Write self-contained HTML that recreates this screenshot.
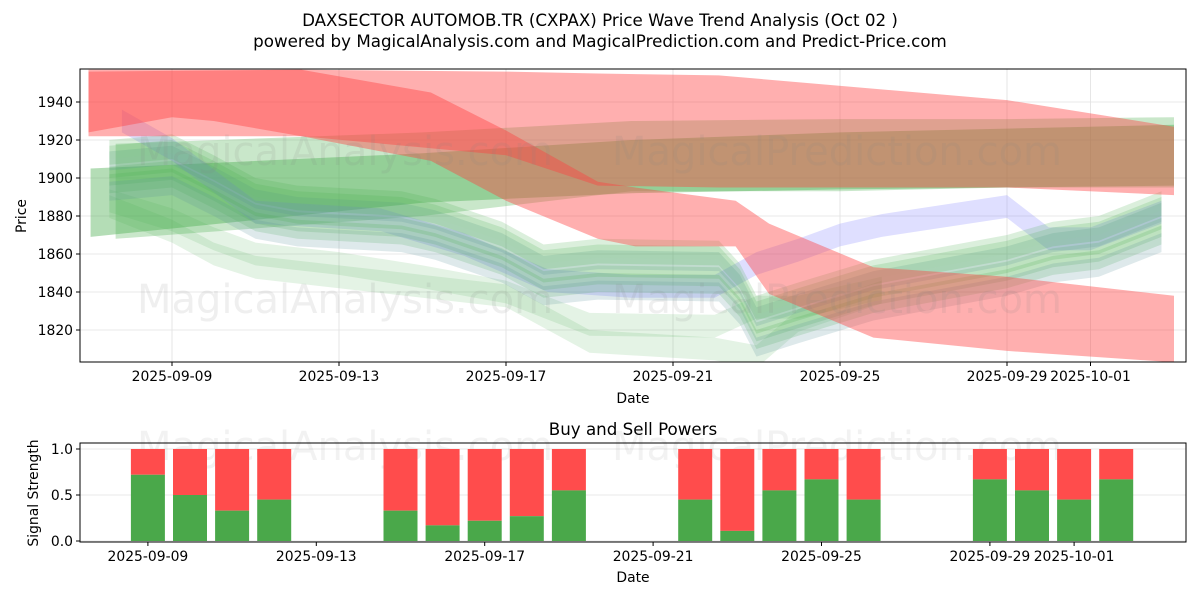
<!DOCTYPE html>
<html><head><meta charset="utf-8"><style>
body{margin:0;background:#fff;}
svg text{font-family:"DejaVu Sans","Liberation Sans",sans-serif;}
</style></head><body>
<svg id="chart" width="1200" height="600" viewBox="0 0 1200 600" xmlns="http://www.w3.org/2000/svg">
<rect width="1200" height="600" fill="#fff"/>
<text x="600" y="26" text-anchor="middle" font-size="16.7">DAXSECTOR AUTOMOB.TR (CXPAX) Price Wave Trend Analysis (Oct 02 )</text>
<text x="600" y="47" text-anchor="middle" font-size="16.7">powered by MagicalAnalysis.com and MagicalPrediction.com and Predict-Price.com</text>
<g id="topPanel"></g>
<g id="botPanel"></g>
</svg>
<script>
const redDeclDays=[-2,0,1,3.1,6.2,8,10.2,11.1,13.5,14.3,16.8,20,24];
const redDeclHi=[1957,1957,1957,1957,1945,1925,1898,1895,1888,1876,1853,1848,1838];
const redDeclLo=[1924,1932,1930,1922,1909,1888,1868,1864,1864,1839,1816,1809,1803];
const redFlatDays=[-2,3.1,8,10.2,13.1,20,24];
const redFlatHi=[1956,1957,1956,1955,1954,1941,1927];
const redFlatLo=[1922,1922,1912,1896,1895,1895,1891];
const g1Days=[-1.95,6,11,16,20,24];
const g1Hi=[1905,1913,1920,1924,1926,1928];
const g1Lo=[1869,1887,1892,1894,1895,1896];
const g2Days=[-1.35,6,11,16,20,24];
const g2Hi=[1918,1924,1930,1931,1931,1932];
const g2Lo=[1868,1880,1893,1893,1895,1895];
const waveDays=[-1.5,0,1,2,3,5.5,6.3,7.9,8.9,10.2,13.1,13.6,14,15,16.8,20,21.1,22.2,23.7];
const waveVals=[1905,1908,1897,1885,1881,1878,1874,1862,1850,1853,1852,1840,1823,1830,1842,1855,1862,1865,1878];
const blueDays=[-1.2,0,2,5,7,9,11,13,14,15,16,17,20,21,22,23.7];
const blueVals=[1930,1915,1882,1878,1865,1846,1843,1843,1855,1862,1870,1875,1885,1868,1868,1882];
const lowDays=[-1.5,0,1,2,4,6,8,10,13,14,15,17];
const lowA=[1888,1878,1868,1860,1855,1848,1840,1823,1822,1832,1832,1842];
const lowB=[1885,1872,1860,1853,1848,1843,1838,1814,1810,1806,1825,1840];
const waveOffsets=[0,-4,4,-8,7,-12,10];
const yTicks=[1820,1840,1860,1880,1900,1920,1940];
const xTickDays=[0,4,8,12,16,20,22];
const xTickLabels=["2025-09-09","2025-09-13","2025-09-17","2025-09-21","2025-09-25","2025-09-29","2025-10-01"];
const barDays=[0,1,2,3,6,7,8,9,10,13,14,15,16,17,20,21,22,23];
const buyVals=[0.72,0.5,0.33,0.45,0.33,0.17,0.22,0.27,0.55,0.45,0.11,0.55,0.67,0.45,0.67,0.55,0.45,0.67];
const sigTicks=[0,0.5,1.0];

const NS="http://www.w3.org/2000/svg";
const FS=13.9;
function mk(tag,attrs,parent){const e=document.createElementNS(NS,tag);for(const k in attrs)e.setAttribute(k,attrs[k]);parent.appendChild(e);return e;}
const L=80,R=1186,T=69,B=362;
const xT=d=>172+41.75*d;
const yT=p=>102+(1940-p)*1.9;
const xB=d=>147.9+42.1*d;
const yB=v=>541-v*92;
const topG=document.getElementById('topPanel'),botG=document.getElementById('botPanel');

yTicks.forEach(v=>{const l=mk('line',{x1:L,x2:R,y1:yT(v),y2:yT(v),stroke:'#e0e0e0','stroke-width':0.8},topG);

});
xTickDays.forEach(d=>{const l=mk('line',{x1:xT(d),x2:xT(d),y1:T,y2:B,stroke:'#e0e0e0','stroke-width':0.8},topG);

});

const cp=mk('clipPath',{id:'cp'},topG);mk('rect',{x:L,y:T,width:R-L,height:B-T},cp);
const g=mk('g',{'clip-path':'url(#cp)'},topG);
function bandPolyG(days,hi,lo,fill,op,name){
  let pts=days.map((d,i)=>xT(d)+','+yT(hi[i]));
  for(let i=days.length-1;i>=0;i--)pts.push(xT(days[i])+','+yT(lo[i]));
  const p=mk('polygon',{points:pts.join(' '),fill:fill,'fill-opacity':op},g);
  
  
}
function waveG(days,vals,off,hw,fill,op,name){bandPolyG(days,vals.map(v=>v+off+hw),vals.map(v=>v+off-hw),fill,op,name);}

bandPolyG(g1Days,g1Hi,g1Lo,'#4caf50',0.42,'green-trend-band-lower');
bandPolyG(g2Days,g2Hi,g2Lo,'#4caf50',0.3,'green-trend-band-upper');
waveG(lowDays,lowA,0,6,'#4caf50',0.15,'green-wave-faint');
waveG(lowDays,lowB,0,6,'#4caf50',0.15,'green-wave-faint');
waveG(blueDays,blueVals,0,6,'#8080ff',0.25,'blue-wave-band');
waveOffsets.forEach((o,i)=>waveG(waveDays,waveVals,o,5,i%3==2?'#5a8f9a':'#4caf50',0.2,'green-wave-band'));
bandPolyG(redFlatDays,redFlatHi,redFlatLo,'#ff4040',0.42,'red-trend-band-flat');
bandPolyG(redDeclDays,redDeclHi,redDeclLo,'#ff4040',0.42,'red-trend-band-declining');

[[345,165],[837,165],[345,313],[837,313]].forEach((p,i)=>{const t=mk('text',{x:p[0],y:p[1],'text-anchor':'middle','font-size':40,fill:'#808080','fill-opacity':0.13},topG);
t.textContent=i%2?'MagicalPrediction.com':'MagicalAnalysis.com';

});

mk('rect',{x:L,y:T,width:R-L,height:B-T,fill:'none',stroke:'#000','stroke-width':1},topG);
yTicks.forEach(v=>{mk('line',{x1:L-4,x2:L,y1:yT(v),y2:yT(v),stroke:'#000'},topG);
const t=mk('text',{x:L-7,y:yT(v)+5,'text-anchor':'end','font-size':FS},topG);t.textContent=v;

});
xTickDays.forEach((d,i)=>{mk('line',{x1:xT(d),x2:xT(d),y1:B,y2:B+4,stroke:'#000'},topG);
const t=mk('text',{x:xT(d),y:B+19,'text-anchor':'middle','font-size':FS},topG);t.textContent=xTickLabels[i];

});
let t1=mk('text',{x:633,y:403,'text-anchor':'middle','font-size':FS},topG);t1.textContent='Date';


let t2=mk('text',{x:26,y:216,'text-anchor':'middle','font-size':FS,transform:'rotate(-90 26 216)'},topG);t2.textContent='Price';



const BT=443,BB=542;
let bt=mk('text',{x:633,y:435,'text-anchor':'middle','font-size':16.7},botG);bt.textContent='Buy and Sell Powers';


sigTicks.forEach(v=>{const l=mk('line',{x1:L,x2:R,y1:yB(v),y2:yB(v),stroke:'#e0e0e0','stroke-width':0.8},botG);

});
[[345,460],[837,460]].forEach((p,i)=>{const t=mk('text',{x:p[0],y:p[1],'text-anchor':'middle','font-size':40,fill:'#808080','fill-opacity':0.1},botG);
t.textContent=i?'MagicalPrediction.com':'MagicalAnalysis.com';

});
barDays.forEach((d,i)=>{const x=xB(d)-17;
const s=mk('rect',{x:x,y:yB(1),width:34,height:yB(buyVals[i])-yB(1),fill:'#ff4c4c'},botG);


const b=mk('rect',{x:x,y:yB(buyVals[i]),width:34,height:yB(0)-yB(buyVals[i]),fill:'#4aa84a'},botG);

});
mk('rect',{x:L,y:BT,width:R-L,height:BB-BT,fill:'none',stroke:'#000','stroke-width':1},botG);
sigTicks.forEach(v=>{mk('line',{x1:L-4,x2:L,y1:yB(v),y2:yB(v),stroke:'#000'},botG);
const t=mk('text',{x:L-7,y:yB(v)+5,'text-anchor':'end','font-size':FS},botG);t.textContent=v.toFixed(1);

});
xTickDays.forEach((d,i)=>{mk('line',{x1:xB(d),x2:xB(d),y1:BB,y2:BB+4,stroke:'#000'},botG);
const t=mk('text',{x:xB(d),y:BB+19,'text-anchor':'middle','font-size':FS},botG);t.textContent=xTickLabels[i];

});
let t3=mk('text',{x:633,y:582,'text-anchor':'middle','font-size':FS},botG);t3.textContent='Date';


let t4=mk('text',{x:38,y:493,'text-anchor':'middle','font-size':FS,transform:'rotate(-90 38 493)'},botG);t4.textContent='Signal Strength';


</script>
</body></html>
